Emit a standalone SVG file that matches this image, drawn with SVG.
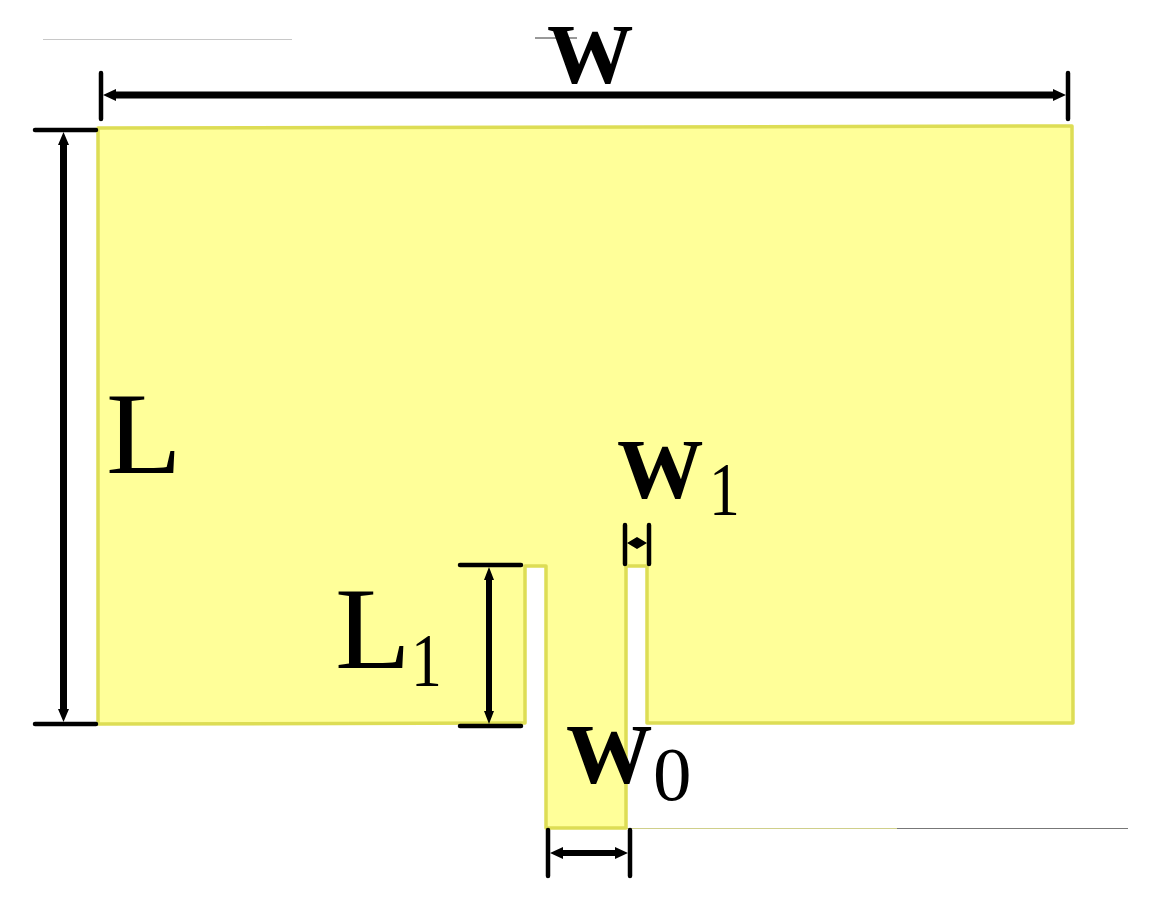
<svg xmlns="http://www.w3.org/2000/svg" width="1168" height="909" viewBox="0 0 1168 909">
<style>
.tick{stroke:#000;stroke-width:4.500;stroke-linecap:round;fill:none}
.shaft{stroke:#000;fill:none}
.w{font-family:"Liberation Serif",serif;font-weight:bold;font-size:84px;fill:#000}
.l{font-family:"Liberation Serif",serif;font-size:116px;fill:#000}
.s{font-family:"Liberation Serif",serif;font-size:77px;fill:#000}
.ah{fill:#000}
</style>
<defs><filter id="soft" x="-2%" y="-2%" width="104%" height="104%"><feGaussianBlur stdDeviation="0.6"/></filter></defs>
<rect width="1168" height="909" fill="#fff"/>
<g id="stray-lines">
<line x1="43" y1="39.500" x2="292" y2="39.500" stroke="#c8c8c8" stroke-width="1"/>
<line x1="535" y1="38" x2="577" y2="38" stroke="#333" stroke-width="1"/>
<line x1="626" y1="828.500" x2="897" y2="828.500" stroke="#cfcf8a" stroke-width="1"/>
<line x1="897" y1="828.500" x2="1128" y2="828.500" stroke="#777" stroke-width="1"/>
</g>
<g id="patch">
<polygon points="98,128 1072,126 1073,723 647,723 647,566 626,566 626,828 546,828 546,566 525,566 525,723 98,724" fill="#ffff99" stroke="#dddd55" stroke-width="3.500" stroke-linejoin="round" filter="url(#soft)"/>
</g>
<g id="connectors">
<path class="tick" d="M101,73V119M1068,73V119M35,130H96M35,724H96M460,565H521M460,726H521M625,525V564M649,525V564M548,830V876M630,830V876"/>
<path class="shaft" stroke-width="7" d="M113,95H1056M63.500,142V713"/>
<path class="shaft" stroke-width="6" d="M489,576V715M560,853H620"/>
<line class="shaft" stroke-width="5" x1="632" y1="543" x2="642" y2="543"/>
<path class="ah" d="M103,95L116,89V101ZM1066,95L1053,89V101ZM63.500,132L58,145H69ZM63.500,722L58,709H69ZM489,567L484,580H494ZM489,724L484,711H494ZM627,543L637,537V549ZM647,543L637,537V549ZM550,853L563,847V859ZM628,853L615,847V859Z"/>
</g>
<g id="label-W"><text class="w" transform="translate(547,83) scale(1.030,1)">W</text></g>
<g id="label-L"><text class="l" transform="translate(106,473) scale(1.070,1)">L</text></g>
<g id="label-W1"><text class="w" transform="translate(617,498) scale(1.030,1)">W</text><text class="s" transform="translate(709,515) scale(0.800,1)">1</text></g>
<g id="label-L1"><text class="l" transform="translate(335,668) scale(1.070,1)">L</text><text class="s" transform="translate(411,686) scale(0.800,1)">1</text></g>
<g id="label-W0"><text class="w" transform="translate(566,783) scale(1.030,1)">W</text><text class="s" x="653" y="800">0</text></g>
</svg>
